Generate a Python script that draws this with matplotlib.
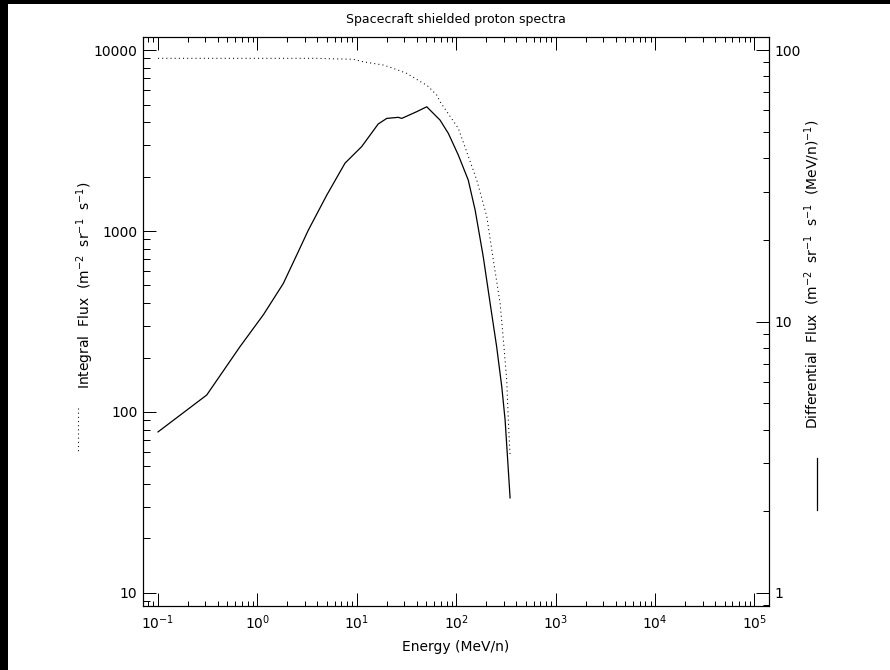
import matplotlib
matplotlib.use('Agg')
import matplotlib.pyplot as plt
from matplotlib.patches import Rectangle
from matplotlib.lines import Line2D
from matplotlib.ticker import LogLocator, NullFormatter

plt.rcParams['font.family'] = ['DejaVu Sans']
plt.rcParams['font.size'] = 10
plt.rcParams['mathtext.default'] = 'regular'

# integral flux (left axis)
int_energy = [0.1, 3.95, 5.35, 9.2, 11.6, 18.5, 23.3, 31.8, 46.7, 50.5, 63.6, 68.7,
              105, 161, 203, 236, 276, 298, 322, 334, 348]
int_flux = [9000, 9000, 8950, 8890, 8610, 8260, 7920, 7430, 6540, 6410, 5640, 5180,
            3690, 1910, 1200, 692, 400, 250, 150, 90, 57]

# differential flux (right axis)
diff_energy = [0.1, 0.309, 0.668, 1.15, 1.82, 2.58, 3.25, 4.98, 7.6, 11.2, 16.4, 20,
               26.1, 28.3, 40.1, 50.5, 68.7, 83.3, 105, 132, 155, 187, 219, 255,
               287, 310, 334, 348]
diff_flux = [3.92, 5.36, 8.08, 10.6, 13.8, 18.1, 21.7, 29.2, 38.3, 44.1, 53.4, 56.0,
             56.5, 56.0, 59.3, 61.8, 55.2, 49.3, 41.0, 33.2, 25.7, 17.3, 11.7, 8.07,
             5.75, 4.34, 2.84, 2.24]

energy_ticks = [1e-1, 1e0, 1e1, 1e2, 1e3, 1e4, 1e5]

W, H = 890, 670
fig = plt.figure(figsize=(W / 100, H / 100), dpi=100)
ax = fig.add_axes([143 / W, 1 - 606 / H, (769 - 143) / W, (606 - 37) / H])
ax2 = ax.twinx()

ax.plot(int_energy, int_flux, color='black', lw=0.75, linestyle=(0, (1, 3)))
ax2.plot(diff_energy, diff_flux, color='black', lw=0.9)

ax.set_xscale('log')
ax.set_yscale('log')
ax2.set_yscale('log')
ax.set_xlim(10 ** -1.151, 10 ** 5.146)
ax.set_ylim(10 ** 0.928, 10 ** 4.072)
ax2.set_ylim(10 ** -0.048, 10 ** 2.048)

ax.set_xticks(energy_ticks)
ax.xaxis.set_minor_locator(LogLocator(base=10, subs=range(2, 10), numticks=100))
ax.xaxis.set_minor_formatter(NullFormatter())
ax.set_yticks([10, 100, 1000, 10000])
ax.set_yticklabels(['10', '100', '1000', '10000'])
ax.yaxis.set_minor_locator(LogLocator(base=10, subs=range(2, 10), numticks=100))
ax.yaxis.set_minor_formatter(NullFormatter())
ax2.set_yticks([1, 10, 100])
ax2.set_yticklabels(['1', '10', '100'])
ax2.yaxis.set_minor_locator(LogLocator(base=10, subs=range(2, 10), numticks=100))
ax2.yaxis.set_minor_formatter(NullFormatter())

ax.tick_params(axis='x', which='both', direction='in', top=True, bottom=True, width=0.72)
ax.tick_params(axis='x', which='major', length=9.4, pad=5)
ax.tick_params(axis='x', which='minor', length=3.6)
ax.tick_params(axis='y', which='both', direction='in', left=True, right=False, width=0.72)
ax.tick_params(axis='y', which='major', length=9.4, pad=4)
ax.tick_params(axis='y', which='minor', length=5)
ax2.tick_params(axis='y', which='both', direction='in', right=True, left=False, width=0.72)
ax2.tick_params(axis='y', which='major', length=9.4, pad=4)
ax2.tick_params(axis='y', which='minor', length=4.5)
for a in (ax, ax2):
    for s in a.spines.values():
        s.set_linewidth(0.8)

ax.set_xlabel('Energy (MeV/n)', labelpad=6)

fig.text(456 / W, 1 - 20 / H, 'Spacecraft shielded proton spectra', ha='center', va='center',
         fontsize=9)
fig.text(85 / W, 1 - 285 / H, r'Integral  Flux  (m$^{-2}$  sr$^{-1}$  s$^{-1}$)',
         rotation=90, ha='center', va='center')
fig.text(812 / W, 1 - 274 / H,
         r'Differential  Flux  (m$^{-2}$  sr$^{-1}$  s$^{-1}$  (MeV/n)$^{-1}$)',
         rotation=90, ha='center', va='center')

# line samples next to the axis titles
fig.add_artist(Line2D([78 / W, 78 / W], [1 - 408 / H, 1 - 453 / H], transform=fig.transFigure,
                      color='black', lw=0.75, linestyle=(0, (1, 3))))
fig.add_artist(Line2D([817 / W, 817 / W], [1 - 458 / H, 1 - 510 / H], transform=fig.transFigure,
                      color='black', lw=0.9))

# black strips at the left and top edges
fig.add_artist(Rectangle((0, 0), 8 / W, 1, transform=fig.transFigure, color='black', lw=0))
fig.add_artist(Rectangle((0, 1 - 4 / H), 1, 4 / H, transform=fig.transFigure, color='black', lw=0))

fig.savefig('out.png', dpi=100)
